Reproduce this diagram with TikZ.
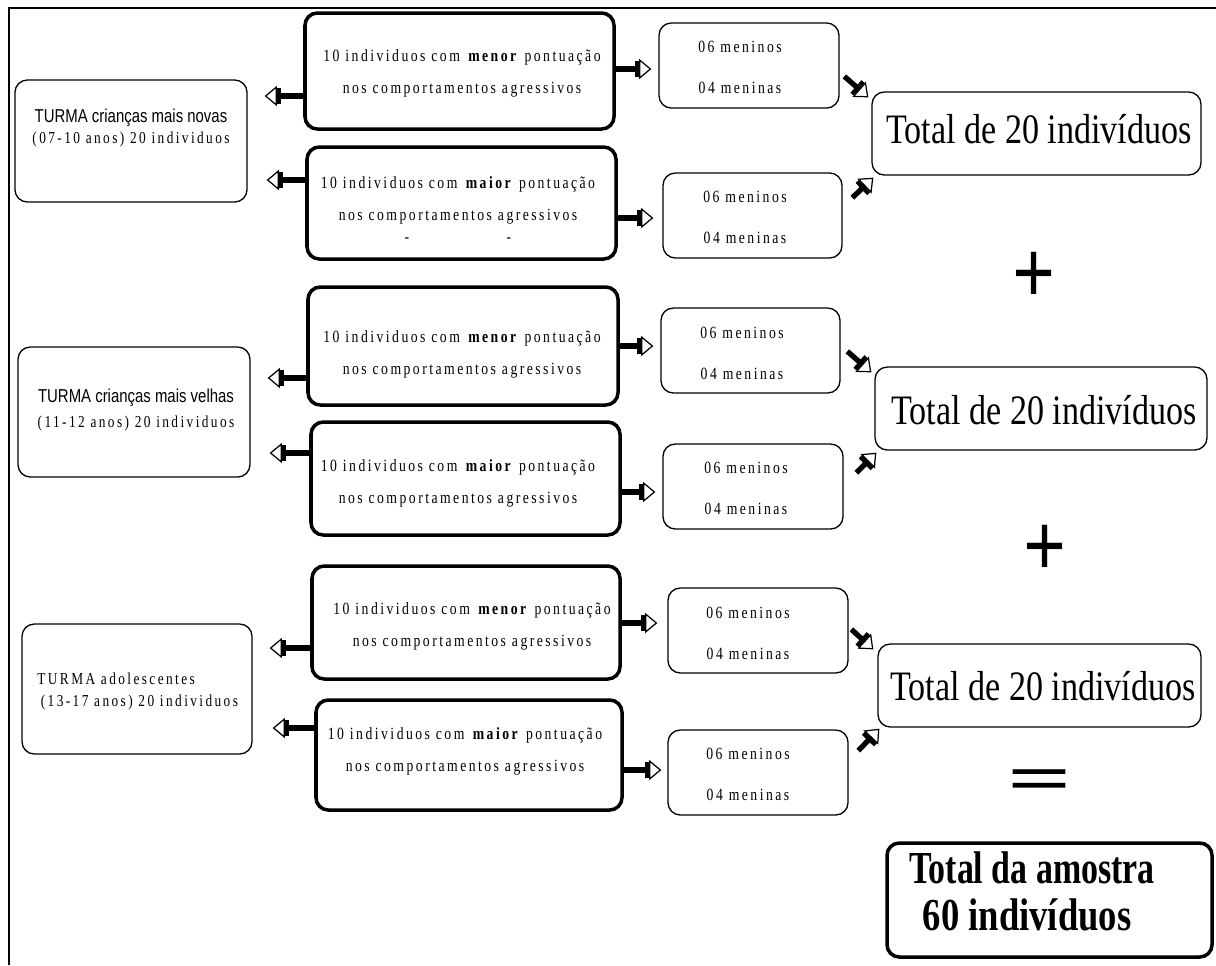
\documentclass[tikz,border=0pt]{standalone}
\usepackage{fontspec}
\setmainfont{Liberation Serif}
\newfontfamily\spaced[LetterSpace=18]{Liberation Serif}
\newfontfamily\arialish{Liberation Sans}
\usetikzlibrary{arrows.meta,fit,calc}

\begin{document}
\begin{tikzpicture}[x=0.02cm,y=-0.02cm,
  heavy/.style={draw, line width=2pt, rounded corners=7pt, inner sep=0pt},
  light/.style={draw, line width=0.75pt, rounded corners=7pt, inner sep=0pt},
  txt/.style={transform shape, yscale=1.25, inner sep=0pt, align=center},
  small/.style={txt, font=\spaced\fontsize{7.8}{14.5}\selectfont},
  pair/.style={txt, font=\spaced\fontsize{7.8}{18.6}\selectfont},
  bigt/.style={transform shape, yscale=1.23, inner sep=0pt, anchor=base,
    font=\fontsize{19.4}{20}\selectfont},
  finalt/.style={transform shape, yscale=1.35, inner sep=0pt, anchor=base,
    font=\bfseries\fontsize{19.3}{20}\selectfont},
  sign/.style={transform shape, inner sep=0pt, font=\bfseries\fontsize{43}{43}\selectfont},
  fat/.style={line width=3pt,
    -{Bar[width=9.5pt,line width=2.4pt,sep=0pt] Triangle[open,length=7pt,width=11.5pt,line width=0.7pt]}},
]
\useasboundingbox (0,0) rectangle (1216,965);

% outer frame (top and left edges only)
\draw[line width=1.1pt] (9,965) -- (9,8) -- (1216,8);

% ---------- group 1: younger children ----------
\node[light, fit={(15,80) (247,202)}] (L1) {};
\node[txt, font=\fontsize{7.6}{10}\selectfont] (L1t) at (131,128)
  {{\arialish\fontsize{8.5}{10}\selectfont TURMA crianças mais novas}\\
   {\spaced (07-10 anos) 20 individuos}};

\node[heavy, fit={(305,13) (614,129)}] (M1) {};
\node[small] (M1t) at (462,73)
  {10 individuos com \textbf{menor} pontuação\\nos comportamentos agressivos};

\node[heavy, fit={(307,147) (616,259)}] (X1) {};
\node[small] (X1t) at (458,200.5)
  {10 individuos com \textbf{maior} pontuação\\nos comportamentos agressivos};
\node[small] (X1d1) at (407,240) {-};
\node[small] (X1d2) at (509,240) {-};

\node[light, fit={(659,23) (839,108)}] (S1a) {};
\node[pair] (S1at) at (740,67.5) {06 meninos\\04 meninas};
\node[light, fit={(663,173) (842,258)}] (S1b) {};
\node[pair] (S1bt) at (745,217.5) {06 meninos\\04 meninas};

\node[light, fit={(872,92) (1201,175)}] (T1) {};
\node[bigt] (T1t) at (1039,143) {Total de 20 indivíduos};

\draw[fat, shorten >=0.34cm] (M1.west |- 0,96) -- (L1.east |- 0,96);
\draw[fat, shorten >=0.38cm] (X1.west |- 0,180) -- (L1.east |- 0,180);
\draw[fat, shorten >=0.14cm] (M1.east |- 0,69) -- (S1a.west |- 0,69);
\draw[fat, shorten >=0.18cm] (X1.east |- 0,218) -- (S1b.west |- 0,218);
\draw[fat] ($(T1.north west)+(-27,-15)$) -- ($(T1.north west)+(-3,6)$);
\draw[fat] ($(T1.south west)+(-19,22)$) -- ($(T1.south west)+(2,2)$);

\node[sign, yscale=1.2] (plus1) at (1034,278) {+};

% ---------- group 2: older children ----------
\node[light, fit={(18,347) (250,477)}] (L2) {};
\node[txt, font=\fontsize{7.6}{11.8}\selectfont] (L2t) at (136,410)
  {{\arialish\fontsize{8.5}{11.8}\selectfont TURMA crianças mais velhas}\\
   {\spaced (11-12 anos) 20 individuos}};

\node[heavy, fit={(308,287) (618,405)}] (M2) {};
\node[small] (M2t) at (462,354)
  {10 individuos com \textbf{menor} pontuação\\nos comportamentos agressivos};

\node[heavy, fit={(311,422) (620,535)}] (X2) {};
\node[small] (X2t) at (458,483)
  {10 individuos com \textbf{maior} pontuação\\nos comportamentos agressivos};

\node[light, fit={(661,308) (840,393)}] (S2a) {};
\node[pair] (S2at) at (742,353) {06 meninos\\04 meninas};
\node[light, fit={(663,444) (843,529)}] (S2b) {};
\node[pair] (S2bt) at (746,488.5) {06 meninos\\04 meninas};

\node[light, fit={(875,367) (1207,450)}] (T2) {};
\node[bigt] (T2t) at (1044,424) {Total de 20 indivíduos};

\draw[fat, shorten >=0.34cm] (M2.west |- 0,378) -- (L2.east |- 0,378);
\draw[fat, shorten >=0.38cm] (X2.west |- 0,453) -- (L2.east |- 0,453);
\draw[fat, shorten >=0.14cm] (M2.east |- 0,346) -- (S2a.west |- 0,346);
\draw[fat, shorten >=0.14cm] (X2.east |- 0,492) -- (S2b.west |- 0,492);
\draw[fat] ($(T2.north west)+(-27,-15)$) -- ($(T2.north west)+(-3,6)$);
\draw[fat] ($(T2.south west)+(-18,22)$) -- ($(T2.south west)+(2,2)$);

\node[sign, yscale=1.2] (plus2) at (1045,551) {+};

% ---------- group 3: adolescents ----------
\node[light, fit={(22,624) (252,754)}] (L3) {};
\node[txt, align=left, anchor=west, font=\spaced\fontsize{7.6}{10}\selectfont] (L3t) at (37,691)
  {TURMA adolescentes\\\hspace*{2pt}(13-17 anos) 20 individuos};

\node[heavy, fit={(312,566) (620,679)}] (M3) {};
\node[small] (M3t) at (472,626.5)
  {10 individuos com \textbf{menor} pontuação\\nos comportamentos agressivos};

\node[heavy, fit={(316,700) (622,810)}] (X3) {};
\node[small] (X3t) at (465,751)
  {10 individuos com \textbf{maior} pontuação\\nos comportamentos agressivos};

\node[light, fit={(668,588) (848,673)}] (S3a) {};
\node[pair] (S3at) at (748,633) {06 meninos\\04 meninas};
\node[light, fit={(668,730) (848,815)}] (S3b) {};
\node[pair] (S3bt) at (748,774) {06 meninos\\04 meninas};

\node[light, fit={(878,644) (1201,727)}] (T3) {};
\node[bigt] (T3t) at (1043,700) {Total de 20 indivíduos};

\draw[fat, shorten >=0.34cm] (M3.west |- 0,648) -- (L3.east |- 0,648);
\draw[fat, shorten >=0.40cm] (X3.west |- 0,728) -- (L3.east |- 0,728);
\draw[fat, shorten >=0.20cm] (M3.east |- 0,623) -- (S3a.west |- 0,623);
\draw[fat, shorten >=0.12cm] (X3.east |- 0,770) -- (S3b.west |- 0,770);
\draw[fat] ($(T3.north west)+(-26,-14)$) -- ($(T3.north west)+(-4,6)$);
\draw[fat] ($(T3.south west)+(-19,23)$) -- ($(T3.south west)+(2,1)$);

\node[sign, xscale=1.5, yscale=0.9] (equals) at (1040,786) {=};

% ---------- grand total ----------
\node[heavy, fit={(887,843) (1212,957)}] (F) {};
\node[finalt] (F1t) at (1032,883) {Total da amostra};
\node[finalt, xscale=1.08] (F2t) at (1027,930) {60 indivíduos};

\end{tikzpicture}
\end{document}
